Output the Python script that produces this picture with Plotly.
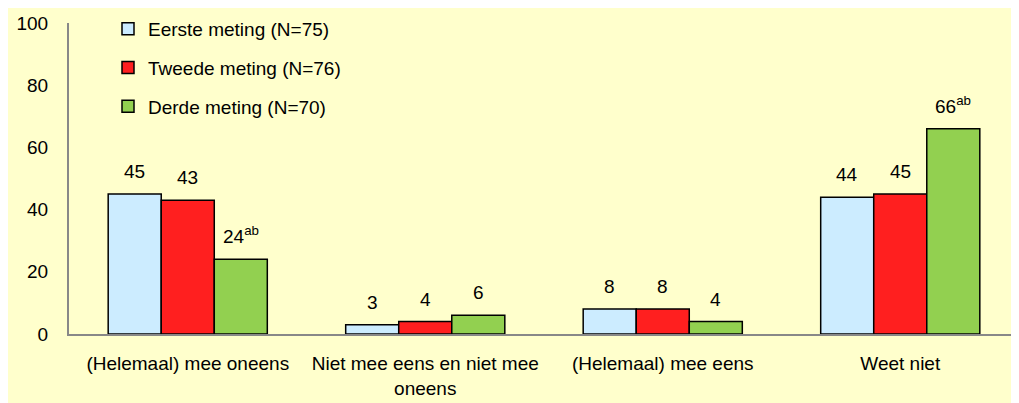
import plotly.graph_objects as go

# data
categories = [
    "(Helemaal) mee oneens",
    "Niet mee eens en niet mee<br>oneens",
    "(Helemaal) mee eens",
    "Weet niet",
]
series_names = ["Eerste meting (N=75)", "Tweede meting (N=76)", "Derde meting (N=70)"]
eerste = [45, 3, 8, 44]
tweede = [43, 4, 8, 45]
derde = [24, 6, 4, 66]
derde_labels = ["24<sup>ab</sup>", "6", "4", "66<sup>ab</sup>"]
y_ticks = [0, 20, 40, 60, 80, 100]

colors = ["#CCECFF", "#FF1F1F", "#92D050"]
FONT = "Liberation Sans, Arial, sans-serif"
FS = 19

W, H = 1011, 395
ML, MR, MT, MB = 61, 0, 15, 69
plot_w = W - ML - MR
plot_h = H - MT - MB
cat_w = plot_w / len(categories)
bargap = 0.33
bar_w = cat_w * (1 - bargap) / 3

fig = go.Figure()
values = [eerste, tweede, derde]
for name, vals, col in zip(series_names, values, colors):
    fig.add_trace(go.Bar(
        x=categories,
        y=vals,
        name=name,
        legendgroup=name,
        marker=dict(color=col, line=dict(color="black", width=1.5)),
        hoverinfo="y",
    ))

# value labels above the bars
labels = [[str(v) for v in eerste], [str(v) for v in tweede], derde_labels]
annotations = []
for i, (vals, labs) in enumerate(zip(values, labels)):
    for cat, v, lab in zip(categories, vals, labs):
        annotations.append(dict(
            x=cat, y=v, text=lab, showarrow=False,
            xref="x", yref="y", xanchor="center", yanchor="bottom",
            xshift=(i - 1) * bar_w, yshift=10,
            font=dict(family=FONT, size=FS, color="black"),
        ))

fig.update_layout(
    width=W,
    height=H,
    margin=dict(l=ML, r=MR, t=MT, b=MB, pad=0, autoexpand=False),
    paper_bgcolor="#FFFFCC",
    plot_bgcolor="#FFFFCC",
    barmode="group",
    bargap=bargap,
    bargroupgap=0,
    font=dict(family=FONT, size=FS, color="black"),
    annotations=annotations,
    showlegend=True,
    legend=dict(
        x=(100 - ML) / plot_w, y=1 + 13 / plot_h,
        xanchor="left", yanchor="top",
        bgcolor="rgba(0,0,0,0)",
        tracegroupgap=11,
        font=dict(family=FONT, size=FS, color="black"),
    ),
    xaxis=dict(
        showline=True, linecolor="#888888", linewidth=2,
        ticks="", showgrid=False, ticklabelstandoff=11,
        tickangle=0, automargin=False,
        tickfont=dict(family=FONT, size=FS),
    ),
    yaxis=dict(
        range=[0, 100], tickvals=y_ticks,
        showline=True, linecolor="#888888", linewidth=2,
        ticks="", showgrid=False, zeroline=False, ticklabelstandoff=15,
        automargin=False,
        tickfont=dict(family=FONT, size=FS),
    ),
)

fig.write_html("out.html")
